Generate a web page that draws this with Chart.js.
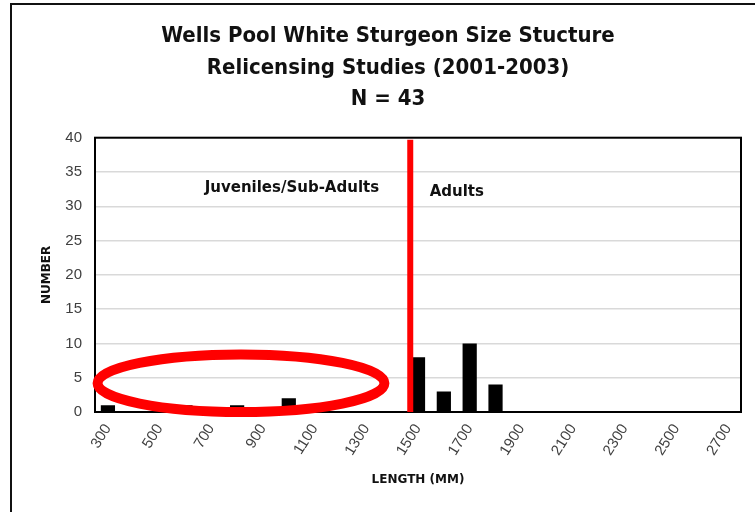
<!DOCTYPE html>
<html>
<head>
<meta charset="utf-8">
<script src="https://cdn.jsdelivr.net/npm/chart.js@4"></script>
<style>
  body { margin: 0; background: #fff; }
  canvas { display: block; }
</style>
</head>
<body>
<canvas id="chart" width="755" height="512"></canvas>
<script>
// Length classes (mm) and fish counts
const lengthClasses = ['300', '400', '500', '600', '700', '800', '900', '1000', '1100', '1200',
    '1300', '1400', '1500', '1600', '1700', '1800', '1900', '2000', '2100', '2200',
    '2300', '2400', '2500', '2600', '2700'];
const fishCounts = [1, 0, 0, 1, 0, 1, 0, 2, 0, 0,
    0, 0, 8, 3, 10, 4, 0, 0, 0, 0,
    0, 0, 0, 0, 0];
const yTicks = [0, 5, 10, 15, 20, 25, 30, 35, 40];
const titleLines = ['Wells Pool White Sturgeon Size Stucture', 'Relicensing Studies (2001-2003)', 'N = 43'];

// annotations, in data units (category index / count)
const splitAt = 11.7;
const juvenileRing = { x: 5.15, y: 4.2, rx: 5.55, ry: 4.2 };
const groupLabels = [
    { text: 'Juveniles/Sub-Adults', x: 7.12, y: 32.6 },
    { text: 'Adults', x: 13.5, y: 32.1 }
];

const boldFont = '"DejaVu Sans", sans-serif';
const tickFont = '"Liberation Sans", Arial, sans-serif';

const markup = {
    id: 'markup',
    beforeDraw(chart) {
        const ctx = chart.ctx;
        ctx.save();
        ctx.strokeStyle = '#111';
        ctx.lineWidth = 2;
        ctx.beginPath();
        ctx.moveTo(11, 512);
        ctx.lineTo(11, 4);
        ctx.lineTo(755, 4);
        ctx.stroke();
        ctx.restore();
    },
    afterDatasetsDraw(chart) {
        const ctx = chart.ctx;
        const x = chart.scales.x, y = chart.scales.y;
        const a = chart.chartArea;
        ctx.save();
        // plot frame
        ctx.strokeStyle = '#000';
        ctx.lineWidth = 2;
        ctx.strokeRect(a.left, a.top, a.right - a.left, a.bottom - a.top);

        // split line
        const sx = x.getPixelForValue(splitAt);
        ctx.strokeStyle = '#ff0000';
        ctx.lineWidth = 6;
        ctx.beginPath();
        ctx.moveTo(sx, y.getPixelForValue(39.7));
        ctx.lineTo(sx, a.bottom);
        ctx.stroke();

        // ring around juveniles
        const cx = x.getPixelForValue(juvenileRing.x);
        const cy = y.getPixelForValue(juvenileRing.y);
        const rx = x.getPixelForValue(juvenileRing.x + juvenileRing.rx) - cx;
        const ry = cy - y.getPixelForValue(juvenileRing.y + juvenileRing.ry);
        ctx.lineWidth = 10;
        ctx.beginPath();
        ctx.ellipse(cx, cy, rx, ry, 0, 0, Math.PI * 2);
        ctx.stroke();

        // group labels
        ctx.fillStyle = '#111';
        ctx.font = 'bold 15px ' + boldFont;
        ctx.textAlign = 'center';
        ctx.textBaseline = 'middle';
        groupLabels.forEach(l => {
            ctx.fillText(l.text, x.getPixelForValue(l.x), y.getPixelForValue(l.y));
        });
        ctx.restore();
    }
};

new Chart(document.getElementById('chart'), {
    type: 'bar',
    data: {
        labels: lengthClasses,
        datasets: [{
            label: 'Number',
            data: fishCounts,
            backgroundColor: '#000',
            barPercentage: 0.55,
            categoryPercentage: 1
        }]
    },
    options: {
        responsive: false,
        animation: false,
        layout: { padding: { left: 35, right: 14, top: 0, bottom: 20 } },
        plugins: {
            legend: { display: false },
            tooltip: { enabled: false },
            title: {
                display: true,
                text: titleLines,
                color: '#111',
                font: { family: '"Liberation Sans Narrow", "DejaVu Sans Condensed", sans-serif', size: 22, weight: 'bold', lineHeight: 1.45 },
                padding: { top: 20, bottom: 22 }
            }
        },
        scales: {
            x: {
                grid: { display: false, drawTicks: false },
                border: { display: false },
                ticks: {
                    autoSkip: false,
                    minRotation: 58,
                    maxRotation: 58,
                    padding: 9,
                    color: '#404040',
                    font: { family: tickFont, size: 15 },
                    callback: (v, i) => (i % 2 === 0 ? lengthClasses[i] : '')
                },
                title: {
                    display: true,
                    text: 'LENGTH (MM)',
                    color: '#111',
                    font: { family: boldFont, size: 12, weight: 'bold' },
                    padding: { top: 0, bottom: 5 }
                },
                afterFit: s => { s.height = 80; }
            },
            y: {
                min: 0,
                max: 40,
                afterBuildTicks: s => { s.ticks = yTicks.map(v => ({ value: v })); },
                grid: { color: '#d9d9d9', lineWidth: 1.5, drawTicks: false },
                border: { display: false },
                ticks: {
                    padding: 13,
                    color: '#404040',
                    font: { family: tickFont, size: 15 }
                },
                title: {
                    display: true,
                    text: 'NUMBER',
                    color: '#111',
                    font: { family: boldFont, size: 12, weight: 'bold' },
                    padding: { top: 5, bottom: 0 }
                },
                afterFit: s => { s.width = 60; }
            }
        }
    },
    plugins: [markup]
});
</script>
</body>
</html>
